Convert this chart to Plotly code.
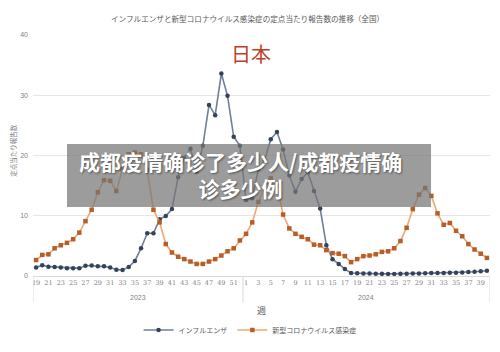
import plotly.graph_objects as go

# ---- data ----
years = ["2023"] * 34 + ["2024"] * 40
weeks = list(range(19, 53)) + list(range(1, 41))

influenza = [1.4, 1.8, 1.55, 1.5, 1.4, 1.3, 1.3, 1.3, 1.7, 1.75,
             1.6, 1.6, 1.4, 1.05, 1.0, 1.5, 2.5, 4.6, 7.1, 7.1,
             9.4, 9.95, 11.1, 16.4, 19.6, 21.1, 17.3, 21.6, 28.4, 26.7,
             33.6, 29.9, 23.1, 21.6, 12.6, 12.9, 17.7, 19.2, 22.7, 23.9,
             21.0, 16.7, 14.0, 16.1, 17.2, 14.1, 11.2, 5.1, 2.8, 2.0,
             1.15, 0.5, 0.45, 0.42, 0.4, 0.38, 0.36, 0.35, 0.35, 0.36,
             0.38, 0.4, 0.42, 0.45, 0.48, 0.5, 0.5, 0.52, 0.55, 0.6,
             0.65, 0.7, 0.78, 0.88]

covid = [2.65, 3.5, 3.6, 4.6, 5.1, 5.5, 6.1, 7.2, 9.1, 11.0,
         13.9, 15.9, 15.8, 14.1, 17.7, 20.2, 20.5, 20.2, 17.6, 11.0,
         8.9, 5.3, 3.9, 3.2, 2.8, 2.4, 2.0, 2.0, 2.4, 2.8,
         3.4, 4.1, 4.6, 5.9, 7.0, 8.9, 12.3, 14.7, 16.2, 15.0,
         10.2, 7.9, 7.0, 6.5, 6.1, 5.2, 5.1, 4.3, 3.8, 3.7,
         3.3, 2.3, 2.8, 3.3, 3.4, 3.6, 4.0, 4.1, 4.6, 5.8,
         8.0, 11.1, 13.5, 14.6, 13.3, 10.4, 8.5, 8.8, 7.5, 6.6,
         5.3, 4.4, 3.7, 3.0]

series_names = ["インフルエンザ", "新型コロナウイルス感染症"]
year_labels = ["2023", "2024"]
y_ticks = [0, 10, 20, 30, 40]

title_text = "インフルエンザと新型コロナウイルス感染症の定点当たり報告数の推移（全国）"
y_title = "定点当たり報告数"
x_title = "週"
country = "日本"
overlay_line1 = "成都疫情确诊了多少人/成都疫情确"
overlay_line2 = "诊多少例"

# ---- figure ----
idx = list(range(len(weeks)))
tick_idx = [i for i in idx if weeks[i] % 2 == 1]
tick_txt = [str(weeks[i]) for i in tick_idx]

JP = "Noto Sans CJK JP"
SC = "Noto Sans CJK SC"
GRAY = "#7f7f7f"

fig = go.Figure()
fig.add_trace(go.Scatter(
    x=idx, y=influenza, name=series_names[0], mode="lines+markers",
    line=dict(color="#6f7f98", width=1.6),
    marker=dict(symbol="circle", size=4.5, color="#34435a"),
))
fig.add_trace(go.Scatter(
    x=idx, y=covid, name=series_names[1], mode="lines+markers",
    line=dict(color="#eba874", width=1.6),
    marker=dict(symbol="square", size=4.5, color="#b65d28"),
))

n23 = years.count("2023")
sep_positions = [-0.5, n23 - 0.5, len(weeks) - 0.5]
shapes = []
for s in sep_positions:
    shapes.append(dict(type="line", xref="x", yref="paper", x0=s, x1=s,
                       y0=0, y1=-0.11, line=dict(color="#d9d9d9", width=1)))
# overlay box
shapes.append(dict(type="rect", xref="paper", yref="paper",
                   x0=0.0744, x1=0.871, y0=0.286, y1=0.548,
                   fillcolor="rgba(118,118,118,0.72)", line=dict(width=0),
                   layer="above"))

annotations = [
    dict(text=title_text, xref="paper", yref="paper", x=0.47, y=1.0705,
         showarrow=False, font=dict(family=JP, size=7.6, color="#595959"),
         xanchor="center", yanchor="middle"),
    dict(text=country, xref="paper", yref="paper", x=0.477, y=0.925,
         showarrow=False, font=dict(family=JP, size=20, color="#bf3f27"),
         xanchor="center", yanchor="middle"),
    dict(text=y_title, xref="paper", yref="paper", x=-0.044, y=0.523,
         showarrow=False, textangle=-90,
         font=dict(family=JP, size=6.5, color=GRAY),
         xanchor="center", yanchor="middle"),
    dict(text=x_title, xref="paper", yref="paper", x=0.5, y=-0.145,
         showarrow=False, font=dict(family=JP, size=9, color="#595959"),
         xanchor="center", yanchor="middle"),
    dict(text=year_labels[0], xref="x", yref="paper", x=(n23 - 1) / 2, y=-0.091,
         showarrow=False, font=dict(family="Liberation Sans", size=7, color=GRAY),
         xanchor="center", yanchor="middle"),
    dict(text=year_labels[1], xref="x", yref="paper",
         x=n23 + (len(weeks) - n23 - 1) / 2, y=-0.091,
         showarrow=False, font=dict(family="Liberation Sans", size=7, color=GRAY),
         xanchor="center", yanchor="middle"),
    dict(text="<b>" + overlay_line1 + "<br>" + overlay_line2 + "</b>",
         xref="paper", yref="paper", align="center",
         x=0.453, y=0.423, showarrow=False,
         font=dict(family=SC, size=21, color="white",
                   shadow="1px 1px 2px rgba(0,0,0,0.45)"),
         xanchor="center", yanchor="middle"),
]

fig.update_layout(
    width=500, height=352,
    margin=dict(l=33, r=10, t=35, b=76, autoexpand=False),
    paper_bgcolor="white", plot_bgcolor="white",
    showlegend=True,
    legend=dict(orientation="h", x=0.475, xanchor="center",
                yref="container", y=0.0625, yanchor="middle",
                itemwidth=30, tracegroupgap=0,
                font=dict(family=JP, size=7, color="#595959"),
                bgcolor="rgba(0,0,0,0)"),
    xaxis=dict(range=[-0.5, len(weeks) - 0.5], tickmode="array",
               tickvals=tick_idx, ticktext=tick_txt, showgrid=False,
               zeroline=False, showline=True, linecolor="#d9d9d9",
               ticks="", tickfont=dict(family="DejaVu Serif", size=6.5, color=GRAY)),
    yaxis=dict(range=[0, 40], tickvals=y_ticks, showgrid=True,
               gridcolor="#e6e6e6", zeroline=False, showline=False,
               ticks="", tickfont=dict(family="Liberation Sans", size=7, color=GRAY),
               ticklabelstandoff=4),
    shapes=shapes,
    annotations=annotations,
)

fig.write_html("out.html")
